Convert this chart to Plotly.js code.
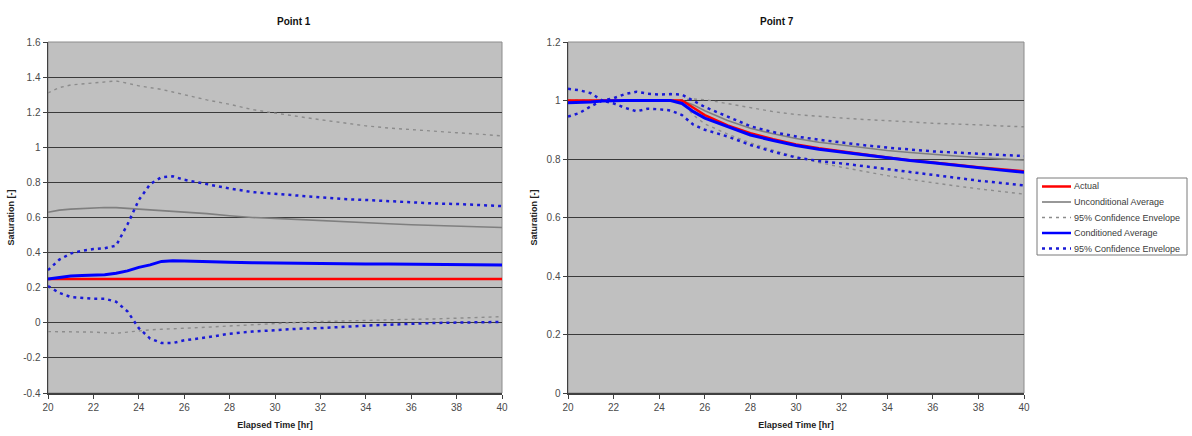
<!DOCTYPE html>
<html>
<head>
<meta charset="utf-8">
<script src="https://cdn.plot.ly/plotly-3.0.1.min.js"></script>
<style>
  html, body { margin: 0; padding: 0; background: #ffffff; }
  #chart { width: 1192px; height: 436px; }
</style>
</head>
<body>
<div id="chart"></div>
<script>
// Elapsed time samples [hr]
const timeHr = [20, 20.5, 21, 21.5, 22, 22.5, 23, 23.5, 24, 24.5, 25, 25.5, 26, 27, 28, 29, 30, 31, 32, 33, 34, 35, 36, 37, 38, 39, 40];

// Point 1 saturation series
const p1Actual    = [0.25, 0.25, 0.25, 0.25, 0.25, 0.25, 0.25, 0.25, 0.25, 0.25, 0.25, 0.25, 0.25, 0.25, 0.25, 0.25, 0.25, 0.25, 0.25, 0.25, 0.25, 0.25, 0.25, 0.25, 0.25, 0.25, 0.25];
const p1UncAvg    = [0.63, 0.642, 0.648, 0.652, 0.655, 0.657, 0.656, 0.652, 0.647, 0.643, 0.64, 0.636, 0.632, 0.622, 0.61, 0.6, 0.595, 0.588, 0.582, 0.575, 0.569, 0.564, 0.559, 0.555, 0.55, 0.546, 0.543];
const p1UncUpper  = [1.31, 1.34, 1.355, 1.36, 1.365, 1.372, 1.378, 1.365, 1.35, 1.34, 1.33, 1.315, 1.30, 1.27, 1.245, 1.215, 1.195, 1.175, 1.157, 1.14, 1.122, 1.11, 1.10, 1.09, 1.083, 1.075, 1.065];
const p1UncLower  = [-0.05, -0.05, -0.05, -0.052, -0.053, -0.057, -0.06, -0.053, -0.045, -0.04, -0.037, -0.035, -0.032, -0.025, -0.018, -0.01, -0.003, 0.002, 0.007, 0.011, 0.014, 0.017, 0.02, 0.022, 0.027, 0.031, 0.035];
const p1CondAvg   = [0.25, 0.258, 0.266, 0.269, 0.271, 0.274, 0.282, 0.296, 0.316, 0.33, 0.35, 0.354, 0.352, 0.347, 0.345, 0.342, 0.34, 0.338, 0.337, 0.336, 0.335, 0.335, 0.334, 0.334, 0.332, 0.329, 0.329];
const p1CondUpper = [0.30, 0.36, 0.395, 0.41, 0.42, 0.425, 0.44, 0.56, 0.70, 0.79, 0.83, 0.835, 0.815, 0.79, 0.765, 0.745, 0.735, 0.725, 0.715, 0.705, 0.70, 0.692, 0.685, 0.68, 0.677, 0.672, 0.665];
const p1CondLower = [0.21, 0.17, 0.147, 0.14, 0.137, 0.137, 0.12, 0.065, -0.03, -0.09, -0.115, -0.115, -0.10, -0.083, -0.062, -0.05, -0.04, -0.034, -0.03, -0.022, -0.016, -0.011, -0.005, -0.001, 0.001, 0.003, 0.005];

// Point 7 saturation series
const p7Actual    = [1.0, 1.0, 1.0, 1.0, 1.0, 1.0, 1.0, 1.0, 1.0, 1.0, 1.0, 0.975, 0.95, 0.915, 0.888, 0.868, 0.85, 0.837, 0.826, 0.815, 0.805, 0.796, 0.787, 0.78, 0.772, 0.765, 0.758];
const p7UncAvg    = [1.0, 1.0, 1.0, 1.0, 1.0, 1.0, 1.0, 1.0, 1.0, 1.0, 1.0, 0.985, 0.965, 0.932, 0.905, 0.886, 0.87, 0.857, 0.847, 0.837, 0.829, 0.822, 0.815, 0.81, 0.805, 0.8, 0.796];
const p7UncUpper  = [1.0, 1.0, 1.0, 1.0, 1.0, 1.0, 1.0, 1.0, 1.0, 1.0, 1.003, 1.005, 1.003, 0.99, 0.975, 0.962, 0.952, 0.945, 0.94, 0.935, 0.932, 0.927, 0.922, 0.92, 0.917, 0.913, 0.91];
const p7UncLower  = [1.0, 1.0, 1.0, 1.0, 1.0, 1.0, 1.0, 1.0, 1.0, 1.0, 0.995, 0.95, 0.92, 0.885, 0.855, 0.83, 0.808, 0.788, 0.772, 0.757, 0.743, 0.73, 0.718, 0.708, 0.698, 0.689, 0.68];
const p7CondAvg   = [0.992, 0.993, 0.995, 0.998, 1.0, 1.0, 1.0, 1.0, 1.0, 1.0, 0.99, 0.962, 0.94, 0.91, 0.882, 0.863, 0.846, 0.833, 0.823, 0.813, 0.804, 0.795, 0.787, 0.778, 0.77, 0.762, 0.755];
const p7CondUpper = [1.04, 1.035, 1.025, 1.0, 1.008, 1.022, 1.03, 1.023, 1.02, 1.022, 1.02, 1.0, 0.978, 0.945, 0.912, 0.892, 0.877, 0.866, 0.856, 0.847, 0.839, 0.832, 0.826, 0.822, 0.818, 0.814, 0.81];
const p7CondLower = [0.945, 0.957, 0.98, 1.0, 0.99, 0.975, 0.963, 0.972, 0.97, 0.966, 0.95, 0.917, 0.9, 0.877, 0.848, 0.825, 0.805, 0.793, 0.785, 0.775, 0.764, 0.754, 0.744, 0.735, 0.726, 0.718, 0.71];

// Axis ticks
const xTicks = [20, 22, 24, 26, 28, 30, 32, 34, 36, 38, 40];
const p1YTicks = [-0.4, -0.2, 0, 0.2, 0.4, 0.6, 0.8, 1, 1.2, 1.4, 1.6];
const p1YLabels = ['-0.4', '-0.2', '0', '0.2', '0.4', '0.6', '0.8', '1', '1.2', '1.4', '1.6'];
const p7YTicks = [0, 0.2, 0.4, 0.6, 0.8, 1, 1.2];
const p7YLabels = ['0', '0.2', '0.4', '0.6', '0.8', '1', '1.2'];

// Legend labels (shared by both panels)
const legendLabels = ['Actual', 'Unconditional Average', '95% Confidence Envelope', 'Conditioned Average', '95% Confidence Envelope'];

const FONT = 'Liberation Sans, Arial, sans-serif';

const styles = {
  actual:  { color: '#ff0000', width: 2.5 },
  uncAvg:  { color: '#7f7f7f', width: 1.6 },
  uncCI:   { color: '#8c8c8c', width: 1.4, dash: '3px,4px' },
  condAvg: { color: '#0000ff', width: 3 },
  condCI:  { color: '#1a1ad6', width: 2.5, dash: '3px,4px' }
};
const legendStyles = [styles.actual, styles.uncAvg, styles.uncCI, styles.condAvg, styles.condCI];

function series(y, name, style, xa, ya) {
  return {
    type: 'scatter', mode: 'lines', x: timeHr, y: y, name: name,
    xaxis: xa, yaxis: ya, line: style, showlegend: false
  };
}

function pointTraces(d, xa, ya) {
  return [
    series(d.uncUpper, legendLabels[2], styles.uncCI, xa, ya),
    series(d.uncLower, legendLabels[2], styles.uncCI, xa, ya),
    series(d.uncAvg, legendLabels[1], styles.uncAvg, xa, ya),
    series(d.actual, legendLabels[0], styles.actual, xa, ya),
    series(d.condUpper, legendLabels[4], styles.condCI, xa, ya),
    series(d.condLower, legendLabels[4], styles.condCI, xa, ya),
    series(d.condAvg, legendLabels[3], styles.condAvg, xa, ya)
  ];
}

const traces = [].concat(
  pointTraces({ actual: p1Actual, uncAvg: p1UncAvg, uncUpper: p1UncUpper, uncLower: p1UncLower,
                condAvg: p1CondAvg, condUpper: p1CondUpper, condLower: p1CondLower }, 'x', 'y'),
  pointTraces({ actual: p7Actual, uncAvg: p7UncAvg, uncUpper: p7UncUpper, uncLower: p7UncLower,
                condAvg: p7CondAvg, condUpper: p7CondUpper, condLower: p7CondLower }, 'x2', 'y2')
);

const W = 1192, H = 436;
const plotTop = 42, plotBottom = 393;
const yDomain = [1 - plotBottom / H, 1 - plotTop / H];
const TICK_FONT = { family: FONT, size: 10, color: '#4a4a4a' };
const TITLE_FONT = { family: FONT, size: 9, color: '#222222' };

function xAxis(domain, anchor) {
  return {
    domain: domain, anchor: anchor, range: [20, 40], tickvals: xTicks,
    ticks: 'outside', ticklen: 4, tickcolor: '#404040', tickwidth: 1,
    showline: true, linecolor: '#404040', linewidth: 1.5,
    showgrid: false, zeroline: false, automargin: false,
    tickfont: TICK_FONT,
    title: { text: '<b>Elapsed Time [hr]</b>', standoff: 10, font: TITLE_FONT }
  };
}

function yAxis(range, vals, labels, anchor) {
  return {
    domain: yDomain, anchor: anchor, range: range, tickvals: vals, ticktext: labels,
    ticks: 'outside', ticklen: 4, tickcolor: '#404040', tickwidth: 1,
    showline: true, linecolor: '#404040', linewidth: 1.5,
    showgrid: true, gridcolor: '#3a3a3a', gridwidth: 1, zeroline: false, automargin: false,
    tickfont: TICK_FONT,
    title: { text: '<b>Saturation [-]</b>', standoff: 7, font: TITLE_FONT }
  };
}

const dom1 = [48 / W, 502 / W];
const dom2 = [568 / W, 1024 / W];

// Boxed legend to the right of the second panel
const legBox = { left: 1037, right: 1187, top: 178, bottom: 255 };
const legRowTop = 186.5, legRowStep = 15.5, legLineX = [1042, 1071], legTextX = 1072;
const px = v => v / W, py = v => 1 - v / H;

const legendShapes = [
  { type: 'rect', xref: 'paper', yref: 'paper',
    x0: px(legBox.left), x1: px(legBox.right), y0: py(legBox.bottom), y1: py(legBox.top),
    line: { color: '#7a7a7a', width: 1 }, fillcolor: '#ffffff', layer: 'above' }
].concat(legendStyles.map((s, i) => ({
  type: 'line', xref: 'paper', yref: 'paper',
  x0: px(legLineX[0]), x1: px(legLineX[1]),
  y0: py(legRowTop + i * legRowStep), y1: py(legRowTop + i * legRowStep),
  line: Object.assign({}, s, { width: Math.min(s.width, 2.5) }), layer: 'above'
})));

const legendAnnotations = legendLabels.map((label, i) => ({
  text: label, xref: 'paper', yref: 'paper', x: px(legTextX), y: py(legRowTop + i * legRowStep),
  xanchor: 'left', yanchor: 'middle', showarrow: false,
  font: { family: FONT, size: 9, color: '#3a3a3a' }
}));

const layout = {
  width: W, height: H,
  margin: { l: 0, r: 0, t: 0, b: 0 },
  paper_bgcolor: '#ffffff',
  plot_bgcolor: '#c0c0c0',
  font: { family: FONT, size: 9, color: '#222222' },
  xaxis: xAxis(dom1, 'y'),
  yaxis: yAxis([-0.4, 1.6], p1YTicks, p1YLabels, 'x'),
  xaxis2: xAxis(dom2, 'y2'),
  yaxis2: yAxis([0, 1.2], p7YTicks, p7YLabels, 'x2'),
  showlegend: false,
  shapes: [
    { type: 'rect', xref: 'x domain', yref: 'y domain', x0: 0, x1: 1, y0: 0, y1: 1,
      line: { color: '#8c8c8c', width: 1 }, fillcolor: 'rgba(0,0,0,0)', layer: 'below' },
    { type: 'rect', xref: 'x2 domain', yref: 'y2 domain', x0: 0, x1: 1, y0: 0, y1: 1,
      line: { color: '#8c8c8c', width: 1 }, fillcolor: 'rgba(0,0,0,0)', layer: 'below' }
  ].concat(legendShapes),
  annotations: [
    { text: '<b>Point 1</b>', xref: 'paper', yref: 'paper', x: (dom1[0] + dom1[1]) / 2, y: 1 - 14 / H,
      showarrow: false, font: { family: FONT, size: 10, color: '#111111' } },
    { text: '<b>Point 7</b>', xref: 'paper', yref: 'paper', x: (dom2[0] + dom2[1]) / 2, y: 1 - 14 / H,
      showarrow: false, font: { family: FONT, size: 10, color: '#111111' } }
  ].concat(legendAnnotations)
};

Plotly.newPlot('chart', traces, layout, { displayModeBar: false, staticPlot: true });
</script>
</body>
</html>
